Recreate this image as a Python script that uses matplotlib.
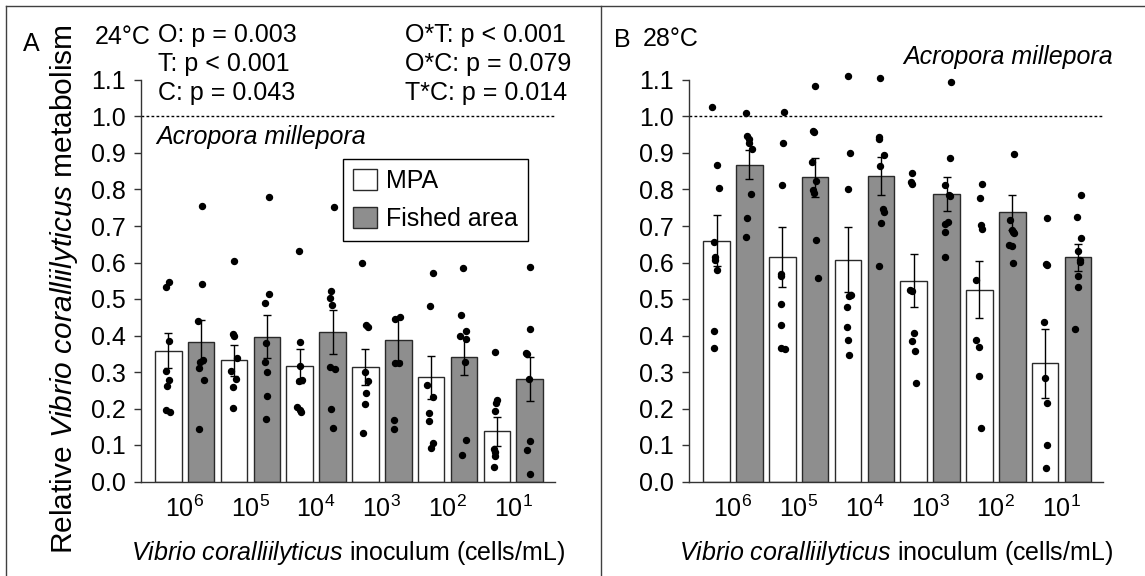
import numpy as np
import matplotlib.pyplot as plt
from matplotlib.patches import Patch
from matplotlib.lines import Line2D

plt.rcParams['font.family'] = ['Liberation Sans', 'DejaVu Sans']
plt.rcParams['mathtext.fontset'] = 'custom'
plt.rcParams['mathtext.rm'] = 'Liberation Sans'
plt.rcParams['mathtext.it'] = 'Liberation Sans:italic'
plt.rcParams['mathtext.default'] = 'regular'

# inoculum doses (cells/mL)
inoculum = [r'10$^{6}$', r'10$^{5}$', r'10$^{4}$', r'10$^{3}$', r'10$^{2}$', r'10$^{1}$']

# ---- 24 C ----
mpa24_mean = [0.358, 0.332, 0.316, 0.313, 0.285, 0.137]
mpa24_se = [0.048, 0.043, 0.047, 0.049, 0.060, 0.039]
fished24_mean = [0.383, 0.397, 0.410, 0.389, 0.342, 0.280]
fished24_se = [0.059, 0.059, 0.061, 0.060, 0.050, 0.060]

mpa24_pts = [
    [0.546, 0.534, 0.386, 0.304, 0.278, 0.263, 0.196, 0.191],
    [0.605, 0.403, 0.398, 0.337, 0.303, 0.281, 0.260, 0.202],
    [0.632, 0.381, 0.316, 0.278, 0.275, 0.203, 0.196, 0.190],
    [0.600, 0.429, 0.424, 0.301, 0.276, 0.242, 0.212, 0.132],
    [0.572, 0.480, 0.264, 0.232, 0.189, 0.166, 0.105, 0.091],
    [0.356, 0.223, 0.214, 0.194, 0.088, 0.082, 0.070, 0.041],
]
fished24_pts = [
    [0.755, 0.541, 0.441, 0.333, 0.328, 0.310, 0.278, 0.143],
    [0.780, 0.514, 0.488, 0.380, 0.328, 0.299, 0.234, 0.172],
    [0.753, 0.522, 0.502, 0.484, 0.315, 0.308, 0.199, 0.146],
    [0.751, 0.450, 0.444, 0.326, 0.324, 0.168, 0.144],
    [0.584, 0.456, 0.411, 0.398, 0.391, 0.328, 0.114, 0.073],
    [0.589, 0.417, 0.351, 0.348, 0.281, 0.112, 0.086, 0.021],
]

# ---- 28 C ----
mpa28_mean = [0.660, 0.615, 0.608, 0.550, 0.526, 0.324]
mpa28_se = [0.069, 0.081, 0.088, 0.073, 0.079, 0.094]
fished28_mean = [0.868, 0.833, 0.837, 0.787, 0.737, 0.614]
fished28_se = [0.040, 0.054, 0.052, 0.047, 0.049, 0.036]

mpa28_pts = [
    [1.027, 0.867, 0.803, 0.657, 0.614, 0.607, 0.579, 0.413, 0.367],
    [1.011, 0.928, 0.812, 0.568, 0.563, 0.486, 0.430, 0.367, 0.364],
    [1.112, 0.901, 0.800, 0.511, 0.508, 0.479, 0.424, 0.388, 0.347],
    [0.845, 0.820, 0.815, 0.526, 0.522, 0.408, 0.385, 0.358, 0.269],
    [0.815, 0.778, 0.703, 0.692, 0.552, 0.388, 0.369, 0.289, 0.147],
    [0.721, 0.597, 0.593, 0.438, 0.283, 0.214, 0.100, 0.038],
]
fished28_pts = [
    [1.009, 0.947, 0.938, 0.927, 0.910, 0.789, 0.721, 0.671],
    [1.084, 0.960, 0.958, 0.876, 0.822, 0.799, 0.791, 0.662, 0.557],
    [1.106, 0.944, 0.937, 0.895, 0.864, 0.746, 0.737, 0.707, 0.590],
    [1.095, 0.885, 0.811, 0.785, 0.783, 0.712, 0.705, 0.684, 0.614],
    [0.896, 0.717, 0.689, 0.684, 0.682, 0.648, 0.645, 0.599],
    [0.786, 0.726, 0.666, 0.632, 0.607, 0.602, 0.563, 0.534, 0.417],
]

# horizontal scatter of the individual points (pixels from bar centre)
mpa24_jit = [[1, -2, 1, -2, 1, -1, -2, 2], [0.3, -0.7, 0.3, 2.7, -3.3, 1.7, -1.3, -0.7],
             [-0.7, 0.3, 0.3, 2.7, -0.3, -3, 0.3, 1.3], [-3.7, 0.7, 2.3, -0.3, 2.3, 0.3, -0.3, -2.7],
             [1.7, -1, -3.7, 1.7, -2, -1.7, 2.3, -0.3], [-2.3, 0, -0.7, -2.3, -3.3, -1.7, -2.3, -3.3]]
fished24_jit = [[0.7, 0.7, -2.7, 2.3, -1, -2, 3, -1.7], [2.3, 2.3, -1.7, -0.7, -1.7, 0, 0, -0.7],
                [1.7, -1.7, -2.3, -0.7, -2.3, 2.7, -1.7, 0.3], [0.3, 1.3, -3, 0.3, -3, -4, -4],
                [-1.3, -3, 2, -3.7, 2, 1.3, 2.3, -2], [0, 0, -3.3, -2.7, -1, 0, -2.7, 0]]
mpa28_jit = [[-4.3, 0, 2.9, -2.5, -1.8, -1.8, 0, -2.5, -2.9], [1.7, 1, -0.7, -1, -1, -1, -1, -1, 2.5],
             [0, 2, 0, 2.5, 0.7, -1.1, -1.1, 0, 1.4], [-1.4, -2.9, -1.4, -4, -1.4, 0, -2.2, 1.4, 2.2],
             [3, 0.7, 1.8, 2.9, -3.6, -3.6, -0.7, -0.7, 1.1], [1.7, 0.4, 1.4, -1.4, -0.4, 2.2, 1.4, 1.1]]
fished28_jit = [[-3.7, -2.7, -0.3, -0.3, 2.3, 1.3, -2, -3.1], [-0.3, -1.7, -1, -2.7, 0.7, -1.7, -1, 0.7, 2.5],
                [-0.7, -1.7, -2.3, 3.3, -1.3, 2.2, 2.9, 0.4, -2.2], [4, 3.3, -1.7, 2.3, 3.3, 1.4, -1.1, -1.1, -1.1],
                [2, -2.5, -0.7, 1.1, 2.2, -3.6, -0.7, 1.1], [3.3, -1, 3.4, 0, 1.6, 2.4, 0, 0, -2.7]]

W, H = 1145, 576
FS = 18
fished_color = '#8e8e8e'
edge = '#2a2a2a'

fig = plt.figure(figsize=(W / 100, H / 100), dpi=100)


def fx(x):
    return x / W


def fy(y):
    return 1 - y / H


def panel(left_px, mpa_mean, mpa_se, fish_mean, fish_se, mpa_pts, fish_pts, mpa_jit, fish_jit):
    ax = fig.add_axes([fx(left_px), fy(481.5), 414 / W, 1.15 * 365 / H])
    x = np.arange(len(inoculum))
    for off, mean, se, pts, jit, col in [(-0.25, mpa_mean, mpa_se, mpa_pts, mpa_jit, 'white'),
                                          (0.25, fish_mean, fish_se, fish_pts, fish_jit, fished_color)]:
        ax.bar(x + off, mean, width=0.405, color=col, edgecolor=edge, linewidth=1, zorder=2)
        ax.errorbar(x + off, mean, yerr=se, fmt='none', ecolor='black', elinewidth=1,
                    capsize=3, capthick=1, zorder=3)
        for i in range(len(x)):
            xs = x[i] + off + np.array(jit[i]) / 65.7
            ax.plot(xs, pts[i], 'o', color='black', ms=4.3, mec='black', zorder=4, clip_on=False)
    ax.axhline(1.0, color='black', lw=1, ls=(0, (2, 1.6)), zorder=1)
    ax.set_xlim(-0.665, 5.635)
    ax.set_ylim(0, 1.15)
    ax.spines['top'].set_visible(False)
    ax.spines['right'].set_visible(False)
    ax.spines['left'].set_bounds(0, 1.1)
    for s in ['left', 'bottom']:
        ax.spines[s].set_color('#333333')
        ax.spines[s].set_linewidth(1)
    ax.set_yticks(np.round(np.arange(0, 1.11, 0.1), 1))
    ax.set_yticklabels(['%.1f' % v for v in np.arange(0, 1.11, 0.1)])
    ax.set_xticks(x)
    ax.set_xticklabels(inoculum)
    ax.tick_params(axis='y', length=5, width=1, pad=6, labelsize=FS, color='#333333')
    ax.tick_params(axis='x', length=0, pad=10, labelsize=FS)
    ax.set_xlabel(r'$\mathit{Vibrio\ coralliilyticus}$ inoculum (cells/mL)', fontsize=FS, va='center')
    ax.xaxis.set_label_coords(0.5, (481.5 - 553) / (1.15 * 365))
    ax.patch.set_visible(False)
    return ax


axA = panel(141, mpa24_mean, mpa24_se, fished24_mean, fished24_se,
            mpa24_pts, fished24_pts, mpa24_jit, fished24_jit)
axB = panel(689.3, mpa28_mean, mpa28_se, fished28_mean, fished28_se,
            mpa28_pts, fished28_pts, mpa28_jit, fished28_jit)

handles = [Patch(facecolor='white', edgecolor=edge, label='MPA'),
           Patch(facecolor=fished_color, edgecolor=edge, label='Fished area')]
leg = axA.legend(handles=handles, loc='upper left', bbox_to_anchor=(0.4886, 0.7676),
                 borderaxespad=0, fancybox=False, edgecolor='black', framealpha=1,
                 fontsize=FS, handlelength=0.95, handleheight=0.9, handletextpad=0.35,
                 labelspacing=0.55, borderpad=0.4)
leg.get_frame().set_linewidth(1)

# panel labels, temperatures and ANOVA terms
fig.text(fx(23), fy(44), 'A', fontsize=FS, va='center')
fig.text(fx(95), fy(37), '24°C', fontsize=FS, va='center')
for y, s in zip([35, 64.5, 93], ['O: p = 0.003', 'T: p < 0.001', 'C: p = 0.043']):
    fig.text(fx(158.5), fy(y), s, fontsize=FS, va='center')
for y, s in zip([35, 64.5, 93], ['O*T: p < 0.001', 'O*C: p = 0.079', 'T*C: p = 0.014']):
    fig.text(fx(405), fy(y), s, fontsize=FS, va='center')
fig.text(fx(156.7), fy(137), 'Acropora millepora', fontsize=FS, style='italic', va='center')

fig.text(fx(614), fy(40), 'B', fontsize=FS, va='center')
fig.text(fx(643), fy(39), '28°C', fontsize=FS, va='center')
fig.text(fx(1113), fy(57), 'Acropora millepora', fontsize=FS, style='italic', va='center', ha='right')

fig.text(fx(64), fy(289), r'Relative $\mathit{Vibrio\ coralliilyticus}$ metabolism',
         fontsize=21.5, rotation=90, ha='center', va='center')

# frame lines around the panels
for xs, ys in [([fx(6), 1], [fy(6), fy(6)]),
               ([fx(6), fx(6)], [0, fy(6)]),
               ([fx(600.7), fx(600.7)], [0, fy(6)])]:
    fig.add_artist(Line2D(xs, ys, color='#404040', lw=1))

fig.savefig('out.png', dpi=100)
